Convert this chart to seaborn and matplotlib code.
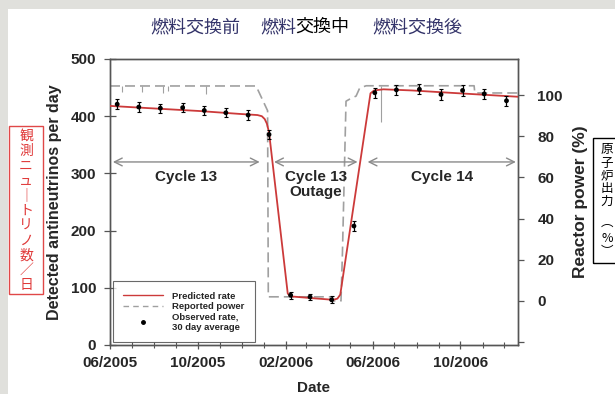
import matplotlib.pyplot as plt
import matplotlib.dates as mdates
import pandas as pd
import seaborn as sns
from matplotlib.lines import Line2D
from matplotlib.patches import Rectangle

# observed rate, 30 day averages
obs_dates = ["2005-06-11", "2005-07-11", "2005-08-10", "2005-09-10", "2005-10-10",
             "2005-11-09", "2005-12-10", "2006-01-08", "2006-02-07", "2006-03-06",
             "2006-04-05", "2006-05-06", "2006-06-04", "2006-07-04", "2006-08-05",
             "2006-09-04", "2006-10-04", "2006-11-03", "2006-12-04"]
obs_rate = [421, 416, 414, 415, 410, 406, 402, 368, 87, 84,
            79, 208, 441, 446, 447, 438, 445, 439, 427]
obs_err = [9, 9, 8, 8, 8, 8, 8, 8, 6, 6, 6, 8, 9, 9, 9, 9, 9, 9, 9]

# predicted rate
pred_dates = ["2005-06-01", "2005-07-26", "2005-10-04", "2005-11-28", "2005-12-23",
              "2005-12-29", "2006-01-02", "2006-01-05", "2006-01-08", "2006-02-03",
              "2006-02-07", "2006-03-08", "2006-04-07", "2006-04-13", "2006-04-17",
              "2006-05-29", "2006-06-03", "2006-06-16", "2006-07-26", "2006-09-16",
              "2006-12-20"]
pred_rate = [418, 414, 409, 404, 402, 400, 395, 387, 372, 90,
             85, 82, 79, 81, 88, 440, 445, 447, 445, 441, 434]

# reported reactor power (%)
power_dates = ["2005-06-01", "2005-12-21", "2006-01-06", "2006-01-07", "2006-04-06",
               "2006-04-07", "2006-04-18", "2006-04-20", "2006-04-25", "2006-04-30",
               "2006-05-09", "2006-05-14", "2006-05-23", "2006-10-20", "2006-10-21",
               "2006-12-20"]
power_pct = [104.4, 104.4, 92.4, 2.0, 2.0, 0.0, 0.0, 23.0, 97.0, 98.0,
             99.5, 103.4, 104.5, 104.5, 101.0, 101.0]

# short dips in reported power
dip_dates = ["2005-06-17", "2005-07-16", "2005-08-13", "2005-08-20", "2005-10-13", "2006-06-13"]
dip_top = [104.4, 104.4, 104.4, 104.4, 104.4, 104.5]
dip_low = [101.5, 101.5, 101.0, 102.0, 100.5, 87.0]

cycle_names = ["Cycle 13", "Cycle 13\nOutage", "Cycle 14"]
cycle_start = ["2005-06-05", "2006-01-15", "2006-05-25"]
cycle_end = ["2005-12-26", "2006-05-11", "2006-12-17"]

x_ticks = ["2005-06-01", "2005-10-01", "2006-02-01", "2006-06-01", "2006-10-01"]

obs = pd.DataFrame({"date": pd.to_datetime(obs_dates), "rate": obs_rate, "err": obs_err})
pred = pd.DataFrame({"date": pd.to_datetime(pred_dates), "rate": pred_rate})
power = pd.DataFrame({"date": pd.to_datetime(power_dates), "pct": power_pct})

sns.set_theme(style="white")
plt.rcParams["font.family"] = ["Liberation Sans", "Noto Sans CJK JP", "DejaVu Sans"]

RED = "#cc3a3a"
GRAY = "#a0a0a0"
SPINE = "#555555"

fig = plt.figure(figsize=(6.15, 3.94), dpi=100, facecolor="#e0e0dc")
fig.patches.append(Rectangle((8 / 615, 0), 1, 1 - 9 / 394, transform=fig.transFigure,
                             facecolor="white", edgecolor="none", zorder=-5))

ax = fig.add_axes([110 / 615, 49 / 394, 408 / 615, 286 / 394])
ax2 = ax.twinx()

sns.lineplot(data=power, x="date", y="pct", ax=ax2, color=GRAY, lw=1.2,
             estimator=None, sort=False, dashes=False, linestyle=(0, (6, 3)))
ax2.vlines(pd.to_datetime(dip_dates), dip_low, dip_top, color=GRAY, lw=0.8)

sns.lineplot(data=pred, x="date", y="rate", ax=ax, color=RED, lw=1.3,
             estimator=None, sort=False, zorder=3)
ax.errorbar(obs["date"], obs["rate"], yerr=obs["err"], fmt="none",
            ecolor="black", elinewidth=0.9, capsize=1.5, capthick=0.8, zorder=4)
sns.scatterplot(data=obs, x="date", y="rate", ax=ax, color="black", s=12,
                edgecolor="none", zorder=5)

# put the rate axes above the power axes
ax.set_zorder(ax2.get_zorder() + 1)
ax.patch.set_visible(False)

for name, s, e in zip(cycle_names, cycle_start, cycle_end):
    s, e = pd.Timestamp(s), pd.Timestamp(e)
    ax.annotate("", xy=(s, 320), xytext=(e, 320),
                arrowprops=dict(arrowstyle="<->", color="#8a8a8a", lw=1.0,
                                mutation_scale=14, shrinkA=0, shrinkB=0))
    mid = s + (e - s) / 2
    ax.text(mid, 306, name, ha="center", va="top", fontsize=11, fontweight="bold",
            linespacing=1.05)

ax.set_xlim(pd.Timestamp("2005-06-01"), pd.Timestamp("2006-12-20"))
ax.set_ylim(0, 500)
ax2.set_ylim(-21.4, 117.5)

ax.set_xticks(pd.to_datetime(x_ticks))
ax.xaxis.set_major_formatter(mdates.DateFormatter("%m/%Y"))
ax.xaxis.set_minor_locator(mdates.MonthLocator())
ax.set_yticks([0, 100, 200, 300, 400, 500])
ax2.set_yticks([-20, 0, 20, 40, 60, 80, 100])
ax2.set_yticklabels(["", "0", "20", "40", "60", "80", "100"])

for a in (ax, ax2):
    for sp in a.spines.values():
        sp.set_color(SPINE)
        sp.set_linewidth(1.0)
ax.tick_params(axis="x", which="major", direction="inout", length=6, width=0.9,
               color=SPINE, pad=5, labelsize=11, bottom=True)
ax.tick_params(axis="x", which="minor", direction="inout", length=4, width=0.8,
               color=SPINE, bottom=True)
ax.tick_params(axis="y", direction="inout", length=8, width=0.9, color=SPINE,
               pad=6, labelsize=11, left=True)
ax2.tick_params(axis="y", direction="out", length=4, width=0.9, color=SPINE,
                pad=10, labelsize=11, right=True)
for lab in ax.get_xticklabels() + ax.get_yticklabels() + ax2.get_yticklabels():
    lab.set_fontweight("bold")

ax.set_xlabel("Date", fontsize=11, fontweight="bold")
ax.xaxis.set_label_coords(0.5, -0.125)
ax.set_ylabel("Detected antineutrinos per day", fontsize=11.5, fontweight="bold")
ax.yaxis.set_label_coords(-0.118, 0.5)
ax2.set_ylabel("Reactor power (%)", fontsize=12.5, fontweight="bold")
ax2.yaxis.set_label_coords(1.135, 0.5)

handles = [Line2D([], [], color=RED, lw=1.0),
           Line2D([], [], color=GRAY, lw=1.0, linestyle=(0, (4, 3))),
           Line2D([], [], color="black", marker="o", markersize=2.5, linestyle="none")]
labels = ["Predicted rate", "Reported power", "Observed rate,\n30 day average"]
leg = ax.legend(handles, labels, loc="lower left", bbox_to_anchor=(0.007, 0.01),
                borderaxespad=0, frameon=True, fancybox=False, edgecolor="#444444",
                prop={"size": 6.8, "weight": "bold"}, handlelength=4.2,
                handletextpad=1.0, labelspacing=0.15, borderpad=1.1)
leg.get_frame().set_linewidth(0.8)

# title
NAVY = "#34346a"
title_font = {"family": ["Noto Sans CJK JP"], "fontsize": 13}
fig.text(150 / 615, 1 - 27 / 394, "燃料交換前", color=NAVY, va="center", ha="left", **title_font)
fig.text(260 / 615, 1 - 27 / 394, "燃料", color=NAVY, va="center", ha="left", **title_font)
fig.text(295 / 615, 1 - 27 / 394, "交換中", color="black", va="center", ha="left", **title_font)
fig.text(372 / 615, 1 - 27 / 394, "燃料交換後", color=NAVY, va="center", ha="left", **title_font)

# left side note (red box)
fig.patches.append(Rectangle((9 / 615, 1 - 294 / 394), 34 / 615, 168 / 394,
                             transform=fig.transFigure, facecolor="none",
                             edgecolor="#e04848", lw=1.0))
left_chars = ["観", "測", "ニ", "ュ", "｜", "ト", "リ", "ノ", "数", "／", "日"]
for i, ch in enumerate(left_chars):
    fig.text(26 / 615, 1 - (136 + i * 14.9) / 394, ch, color="#e03a3a", ha="center",
             va="center", family=["Noto Sans CJK JP", "DejaVu Sans"], fontsize=10)

# right side note (black box, runs off the edge)
fig.patches.append(Rectangle((593 / 615, 1 - 263 / 394), 40 / 615, 125 / 394,
                             transform=fig.transFigure, facecolor="none",
                             edgecolor="black", lw=1.0))
right_chars = ["原", "子", "炉", "出", "力", "︵", "%", "︶"]
right_y = [150, 163, 176, 189, 201, 222, 238, 252]
for ch, yy in zip(right_chars, right_y):
    fig.text(607 / 615, 1 - yy / 394, ch, color="black", ha="center", va="center",
             family=["Noto Sans CJK JP", "DejaVu Sans"], fontsize=9)

fig.savefig("out.png", dpi=100, facecolor=fig.get_facecolor())
